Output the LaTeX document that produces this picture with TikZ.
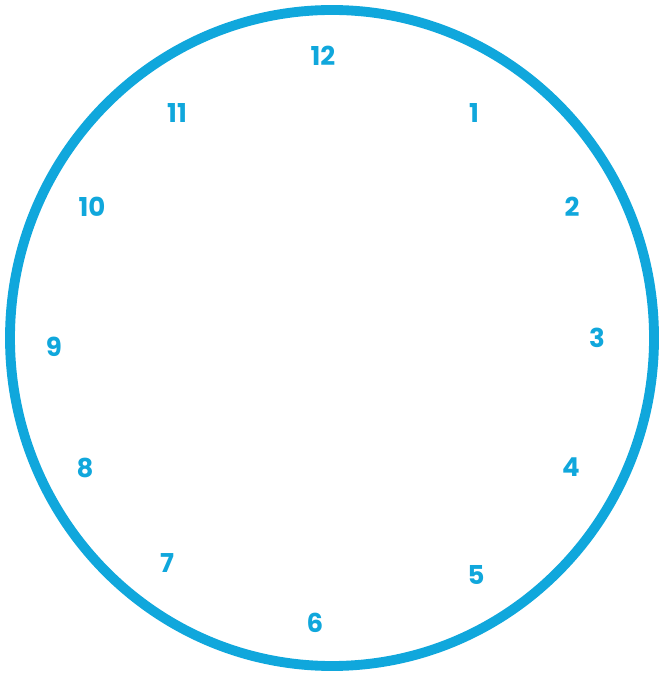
\documentclass[tikz,border=0pt]{standalone}
\usepackage{fontspec}
\setmainfont{Poppins}
\usepackage{xcolor}
\usepackage{tikz}
\usetikzlibrary{calc}
\definecolor{clockblue}{HTML}{10A7DC}
\tikzset{
  rim/.style={draw=clockblue,line width=2.8pt},
  hour/.style={text=clockblue,font=\fontsize{7.4}{8}\selectfont\bfseries,inner sep=0pt}
}
\begin{document}
\begin{tikzpicture}[x=0.01cm,y=-0.01cm]
\useasboundingbox (0,0) rectangle (658,674);
\draw[rim] (332,338) ellipse [x radius=322,y radius=328];
\foreach \hr/\px/\py in {12/323/56,1/474/113,2/572/207,3/597/338,4/571/467,5/476/575,6/315/623,7/167/563,8/85/468,9/54/347,10/92/207,11/177/113}{
  \node[hour] (h\hr) at (\px,\py) {\hr};
}
\end{tikzpicture}
\end{document}
